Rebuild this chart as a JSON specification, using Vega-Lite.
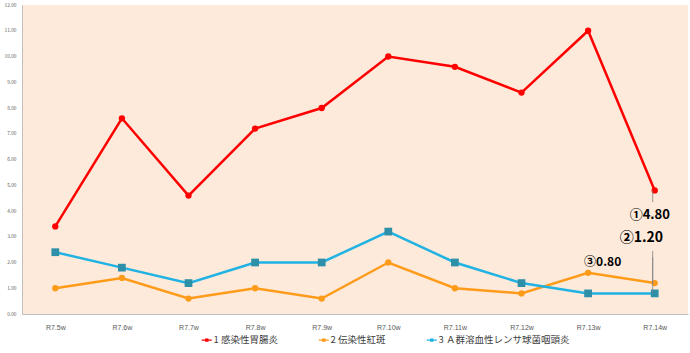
{
  "$schema": "https://vega.github.io/schema/vega-lite/v6.json",
  "width": 666,
  "height": 309,
  "autosize": {"type": "none"},
  "padding": {"left": 22, "top": 5, "right": 2, "bottom": 39},
  "background": "#ffffff",
  "view": {"fill": "#FDEADA", "stroke": null},
  "config": {"font": "Noto Sans CJK JP", "axisY": {"labelOverlap": false}},
  "datasets": {
    "main": [
      {"week": "R7.5w", "series": "1 感染性胃腸炎", "value": 3.4},
      {"week": "R7.6w", "series": "1 感染性胃腸炎", "value": 7.6},
      {"week": "R7.7w", "series": "1 感染性胃腸炎", "value": 4.6},
      {"week": "R7.8w", "series": "1 感染性胃腸炎", "value": 7.2},
      {"week": "R7.9w", "series": "1 感染性胃腸炎", "value": 8.0},
      {"week": "R7.10w", "series": "1 感染性胃腸炎", "value": 10.0},
      {"week": "R7.11w", "series": "1 感染性胃腸炎", "value": 9.6},
      {"week": "R7.12w", "series": "1 感染性胃腸炎", "value": 8.6},
      {"week": "R7.13w", "series": "1 感染性胃腸炎", "value": 11.0},
      {"week": "R7.14w", "series": "1 感染性胃腸炎", "value": 4.8},
      {"week": "R7.5w", "series": "2 伝染性紅斑", "value": 1.0},
      {"week": "R7.6w", "series": "2 伝染性紅斑", "value": 1.4},
      {"week": "R7.7w", "series": "2 伝染性紅斑", "value": 0.6},
      {"week": "R7.8w", "series": "2 伝染性紅斑", "value": 1.0},
      {"week": "R7.9w", "series": "2 伝染性紅斑", "value": 0.6},
      {"week": "R7.10w", "series": "2 伝染性紅斑", "value": 2.0},
      {"week": "R7.11w", "series": "2 伝染性紅斑", "value": 1.0},
      {"week": "R7.12w", "series": "2 伝染性紅斑", "value": 0.8},
      {"week": "R7.13w", "series": "2 伝染性紅斑", "value": 1.6},
      {"week": "R7.14w", "series": "2 伝染性紅斑", "value": 1.2},
      {"week": "R7.5w", "series": "3 Ａ群溶血性レンサ球菌咽頭炎", "value": 2.4},
      {"week": "R7.6w", "series": "3 Ａ群溶血性レンサ球菌咽頭炎", "value": 1.8},
      {"week": "R7.7w", "series": "3 Ａ群溶血性レンサ球菌咽頭炎", "value": 1.2},
      {"week": "R7.8w", "series": "3 Ａ群溶血性レンサ球菌咽頭炎", "value": 2.0},
      {"week": "R7.9w", "series": "3 Ａ群溶血性レンサ球菌咽頭炎", "value": 2.0},
      {"week": "R7.10w", "series": "3 Ａ群溶血性レンサ球菌咽頭炎", "value": 3.2},
      {"week": "R7.11w", "series": "3 Ａ群溶血性レンサ球菌咽頭炎", "value": 2.0},
      {"week": "R7.12w", "series": "3 Ａ群溶血性レンサ球菌咽頭炎", "value": 1.2},
      {"week": "R7.13w", "series": "3 Ａ群溶血性レンサ球菌咽頭炎", "value": 0.8},
      {"week": "R7.14w", "series": "3 Ａ群溶血性レンサ球菌咽頭炎", "value": 0.8}
    ],
    "notes": [
      {"id": 1, "week": "R7.14w", "label": "①4.80", "y": 3.84},
      {"id": 2, "week": "R7.14w", "label": "②1.20", "y": 2.95},
      {"id": 3, "week": "R7.13w", "label": "③0.80", "y": 2.02}
    ],
    "leaders": [
      {"week": "R7.14w", "y": 4.8, "y2": 4.35},
      {"week": "R7.14w", "y": 2.45, "y2": 1.2},
      {"week": "R7.14w", "y": 2.2, "y2": 0.8}
    ]
  },
  "encoding": {
    "x": {
      "field": "week",
      "type": "ordinal",
      "sort": null,
      "scale": {"type": "point", "padding": 0.5, "domain": ["R7.5w","R7.6w","R7.7w","R7.8w","R7.9w","R7.10w","R7.11w","R7.12w","R7.13w","R7.14w"]},
      "axis": {"title": null, "labelAngle": 0, "labelFontSize": 7, "labelColor": "#595959", "labelFont": "Liberation Sans", "ticks": false, "labelPadding": 9, "domainColor": "#BFBFBF", "grid": false}
    },
    "y": {"field": "value", "type": "quantitative", "scale": {"domain": [0, 12], "nice": false},
      "axis": {"title": null, "format": ".2f", "values": [0,1,2,3,4,5,6,7,8,9,10,11,12], "labelOverlap": false, "labelFontSize": 4.8, "labelColor": "#595959", "ticks": false, "grid": false, "labelPadding": 6, "domainColor": "#BFBFBF"}}
  },
  "layer": [
    {
      "data": {"name": "main"},
      "mark": {"type": "line", "strokeWidth": 2.5},
      "encoding": {
        "color": {"field": "series", "type": "nominal",
          "scale": {"domain": ["1 感染性胃腸炎", "2 伝染性紅斑", "3 Ａ群溶血性レンサ球菌咽頭炎"], "range": ["#FF0000", "#FF9B1A", "#1FB2E3"]},
          "legend": {"orient": "none", "legendX": 180, "legendY": 330, "direction": "horizontal", "title": null, "labelFontSize": 9.5, "labelColor": "#404040", "symbolType": "M-1.3,-0.18H1.3V0.18H-1.3Z M-0.45,-0.45H0.45V0.45H-0.45Z", "symbolSize": 60, "symbolStrokeWidth": 0, "columnPadding": 40, "labelOffset": 2}}
      }
    },
    {
      "data": {"name": "main"},
      "transform": [{"filter": "datum.series !== '3 Ａ群溶血性レンサ球菌咽頭炎'"}],
      "mark": {"type": "point", "filled": true, "shape": "circle", "size": 40, "opacity": 1},
      "encoding": {
        "color": {"field": "series", "type": "nominal", "legend": null}
      }
    },
    {
      "data": {"name": "main"},
      "transform": [{"filter": "datum.series === '3 Ａ群溶血性レンサ球菌咽頭炎'"}],
      "mark": {"type": "point", "filled": true, "shape": "square", "size": 60, "opacity": 1, "color": "#2E8FA8"},
      "encoding": {}
    },
    {
      "data": {"name": "leaders"},
      "mark": {"type": "rule", "color": "#7F7F7F", "strokeWidth": 0.8, "xOffset": -2},
      "encoding": {
        "y": {"field": "y", "type": "quantitative"},
        "y2": {"field": "y2"}
      }
    },
    {
      "data": {"name": "notes"},
      "transform": [{"filter": "datum.id === 1"}],
      "mark": {"type": "text", "fontSize": 13, "fontWeight": "bold", "align": "left", "dx": -25, "color": "#000000"},
      "encoding": {"y": {"field": "y", "type": "quantitative"}, "text": {"field": "label"}}
    },
    {
      "data": {"name": "notes"},
      "transform": [{"filter": "datum.id === 2"}],
      "mark": {"type": "text", "fontSize": 14, "fontWeight": "bold", "align": "left", "dx": -35, "color": "#000000"},
      "encoding": {"y": {"field": "y", "type": "quantitative"}, "text": {"field": "label"}}
    },
    {
      "data": {"name": "notes"},
      "transform": [{"filter": "datum.id === 3"}],
      "mark": {"type": "text", "fontSize": 12, "fontWeight": "bold", "align": "left", "dx": -4, "color": "#000000"},
      "encoding": {"y": {"field": "y", "type": "quantitative"}, "text": {"field": "label"}}
    }
  ]
}
